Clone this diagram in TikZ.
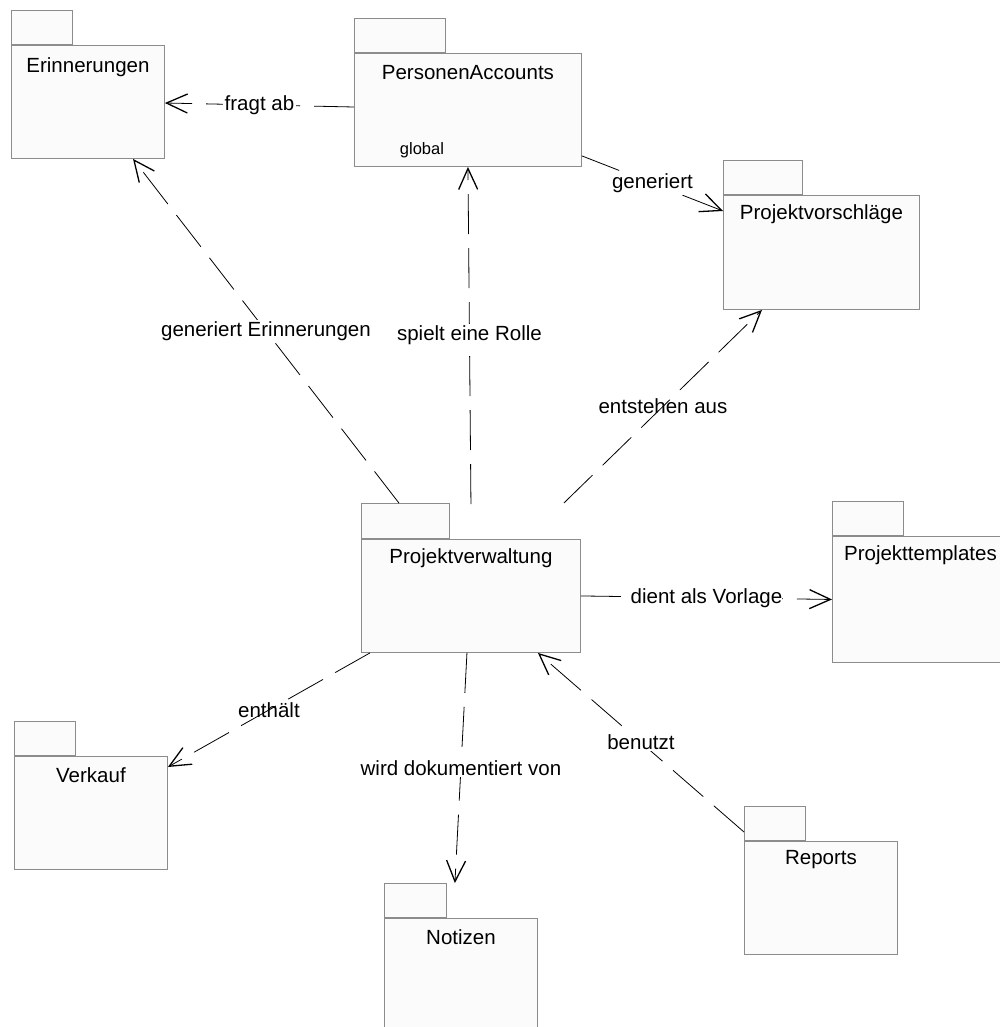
\documentclass[tikz,border=0pt]{standalone}
\usepackage{fontspec}
\setmainfont{Liberation Sans}
\usetikzlibrary{arrows.meta,calc}
\definecolor{boxgray}{HTML}{8C8C8C}
\definecolor{boxfill}{HTML}{FBFBFB}
\begin{document}
\begin{tikzpicture}[x=1pt,y=-1pt,
  pkgbody/.style={draw=boxgray, fill=boxfill, line width=0.9pt, rectangle,
    inner sep=0pt, anchor=north west},
  pkgtab/.style={draw=boxgray, fill=boxfill, line width=0.9pt, rectangle,
    inner sep=0pt, anchor=south west, minimum height=34pt},
  pkgname/.style={font=\fontsize{20.5}{24}\selectfont, inner sep=0pt},
  dep/.style={draw=black, line width=0.8pt, dash pattern=on 40pt off 14pt,
    -{Straight Barb[length=21pt,width=19pt,line width=1.3pt]}},
  deplabel/.style={font=\fontsize{20.5}{24}\selectfont, inner sep=1.5pt, midway},
  opaque/.style={fill=white}
]
\path[use as bounding box] (0,0) rectangle (1000,1027);
\fill[white] (0,0) rectangle (1000,1027);
\clip (0,0) rectangle (1000,1027);

% packages: body, tab on top-left, name below the body's top edge
\node[pkgbody, minimum width=153pt, minimum height=113pt] (er) at (11,45) {};
\node[pkgtab, minimum width=61pt] (er-tab) at (er.north west) {};
\node[pkgname] (er-name) at ([yshift=-22pt]er.north) {Erinnerungen};

\node[pkgbody, minimum width=227pt, minimum height=113pt] (pa) at (354,53) {};
\node[pkgtab, minimum width=91pt] (pa-tab) at (pa.north west) {};
\node[pkgname] (pa-name) at ([yshift=-20pt]pa.north) {PersonenAccounts};
\node[font=\fontsize{16.5}{20}\selectfont, inner sep=0pt] (pa-global)
  at ([xshift=68pt, yshift=17pt]pa.south west) {global};

\node[pkgbody, minimum width=196pt, minimum height=114pt] (pv) at (723,195) {};
\node[pkgtab, minimum width=79pt] (pv-tab) at (pv.north west) {};
\node[pkgname] (pv-name) at ([yshift=-19pt]pv.north) {Projektvorschläge};

\node[pkgbody, minimum width=219pt, minimum height=113pt] (pw) at (361,539) {};
\node[pkgtab, minimum width=88pt, minimum height=35pt] (pw-tab) at (pw.north west) {};
\node[pkgname] (pw-name) at ([yshift=-19pt]pw.north) {Projektverwaltung};

\node[pkgbody, minimum width=176pt, minimum height=126pt] (pt) at (832,536) {};
\node[pkgtab, minimum width=71pt] (pt-tab) at (pt.north west) {};
\node[pkgname] (pt-name) at ([yshift=-19pt]pt.north) {Projekttemplates};

\node[pkgbody, minimum width=153pt, minimum height=113pt] (vk) at (14,756) {};
\node[pkgtab, minimum width=61pt] (vk-tab) at (vk.north west) {};
\node[pkgname] (vk-name) at ([yshift=-19pt]vk.north) {Verkauf};

\node[pkgbody, minimum width=153pt, minimum height=113pt] (nz) at (384,918) {};
\node[pkgtab, minimum width=62pt] (nz-tab) at (nz.north west) {};
\node[pkgname] (nz-name) at ([yshift=-19pt]nz.north) {Notizen};

\node[pkgbody, minimum width=153pt, minimum height=113pt] (rp) at (744,841) {};
\node[pkgtab, minimum width=61pt] (rp-tab) at (rp.north west) {};
\node[pkgname] (rp-name) at ([yshift=-19pt]rp.north) {Reports};

% dependencies
\draw[dep] ([yshift=-54pt]pa.north west) -- node[deplabel, opaque] {fragt ab}
  ([yshift=-58pt]er.north east);
\draw[dep] ([yshift=11pt]pa.south east) -- node[deplabel, opaque] {generiert}
  ([yshift=-16pt]pv.north west);
\draw[dep] ([xshift=38pt]pw-tab.north west) -- node[deplabel, opaque] {generiert Erinnerungen}
  ([xshift=122pt]er.south west);
\draw[dep] ([yshift=35pt]pw.north) -- node[deplabel, opaque] {spielt eine Rolle}
  (pa.south);
\draw[dep] ([xshift=-17pt, yshift=36pt]pw.north east) -- node[deplabel] {entstehen aus}
  ([xshift=39pt]pv.south west);
\draw[dep] (pw.east) -- node[deplabel, opaque, inner sep=0pt] {dient als Vorlage} (pt.west);
\draw[dep] ([xshift=9pt]pw.south west) -- node[deplabel] {enthält}
  ([yshift=-11pt]vk.north east);
\draw[dep] ([xshift=-4pt]pw.south) -- node[deplabel, opaque] {wird dokumentiert von}
  ([xshift=8pt]nz-tab.north east);
\draw[dep] ([yshift=9pt]rp.north west) -- node[deplabel, opaque] {benutzt}
  ([xshift=-43pt]pw.south east);
\end{tikzpicture}
\end{document}
